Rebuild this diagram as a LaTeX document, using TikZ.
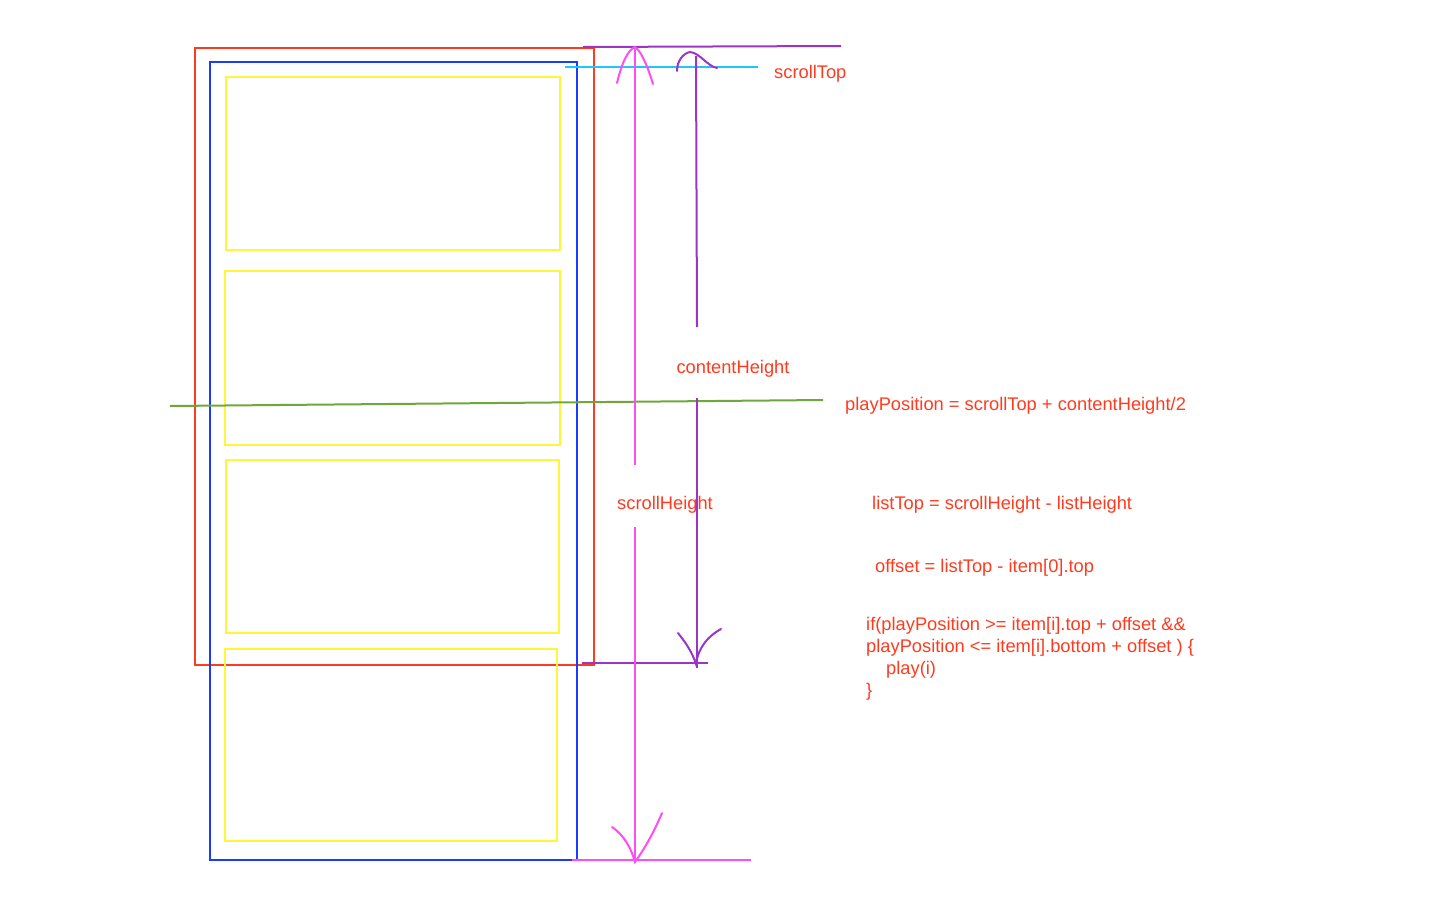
\documentclass[tikz,border=0pt]{standalone}
\usepackage{fontspec}
\setmainfont{Liberation Sans}
\definecolor{cred}{HTML}{FF3B1F}
\definecolor{cblue}{HTML}{1A3CFF}
\definecolor{cyel}{HTML}{FFF53A}
\definecolor{cgreen}{HTML}{6EA83A}
\definecolor{ccyan}{HTML}{1EC8FF}
\definecolor{cpurp}{HTML}{9A35C8}
\definecolor{cmag}{HTML}{FF4DF5}
\begin{document}
\begin{tikzpicture}[x=1pt,y=-1pt,
  ln/.style={line width=2pt},
  lbl/.style={text=cred,font=\fontsize{18.3}{22}\selectfont,inner sep=0pt},
  lblw/.style={lbl,anchor=west}]
\useasboundingbox (0,0) rectangle (1440,900);
% frames
\draw[ln,cred] (195,48) rectangle (594,665);
\draw[ln,cblue] (210,62) rectangle (577,860);
\draw[ln,cyel] (226,77) rectangle (560,250);
\draw[ln,cyel] (225,271) rectangle (560,445);
\draw[ln,cyel] (226,460) rectangle (559,633);
\draw[ln,cyel] (225,649) rectangle (557,841);
% horizontal lines
\coordinate (gL) at (170,406); \coordinate (gR) at (823,400);
\draw[ln,cgreen] (gL) -- (gR);
\coordinate (cL) at (565,67); \coordinate (cR) at (758,67);
\draw[ln,ccyan] (cL) -- (cR);
\coordinate (pTL) at (583,47); \coordinate (pTR) at (841,46);
\draw[ln,cpurp] (pTL) -- (pTR);
\coordinate (pBL) at (582,663); \coordinate (pBR) at (708,663);
\draw[ln,cpurp] (pBL) -- (pBR);
\coordinate (mBL) at (572,860); \coordinate (mBR) at (751,860);
\draw[ln,cmag] (mBL) -- (mBR);
% labels
\node[lbl] (sh) at (665,505) {scrollHeight};
\node[lbl] (ch) at (733,369) {contentHeight};
\node[lblw] (st) at (774,74) {scrollTop};
\node[lblw] (pp) at (845,406) {playPosition = scrollTop + contentHeight/2};
\node[lblw] (lt) at (872,505) {listTop = scrollHeight - listHeight};
\node[lblw] (of) at (875,568) {offset = listTop - item[0].top};
\node[lblw] (c1) at (866,626) {if(playPosition >= item[i].top + offset \&\&};
\node[lblw] (c2) at (866,648) {playPosition <= item[i].bottom + offset ) \{};
\node[lblw] (c3) at (886,670) {play(i)};
\node[lblw] (c4) at (866,692) {\}};
% magenta scrollHeight arrow
\coordinate (mT) at (635,47); \coordinate (mB) at (635,862);
\draw[ln,cmag] (mT) -- (635,465);
\draw[ln,cmag] (635,527) -- (mB);
\draw[ln,cmag,line cap=round] (617,83) .. controls (622,62) and (628,50) .. (mT) .. controls (642,52) and (648,68) .. (653,84);
\draw[ln,cmag,line cap=round] (612,827) .. controls (624,835) and (631,848) .. (mB) .. controls (645,848) and (654,832) .. (662,813);
% purple contentHeight arrows
\coordinate (pT) at (690,52); \coordinate (pB) at (697,668);
\draw[ln,cpurp] (696,56) -- (697,327);
\draw[ln,cpurp] (697,398) -- (pB);
\draw[ln,cpurp,line cap=round] (677,71) .. controls (677,60) and (684,53) .. (pT) .. controls (700,53) and (707,66) .. (717,68);
\draw[ln,cpurp,line cap=round] (678,633) .. controls (686,643) and (692,652) .. (696,664) .. controls (698,648) and (708,636) .. (721,629);
\end{tikzpicture}
\end{document}
